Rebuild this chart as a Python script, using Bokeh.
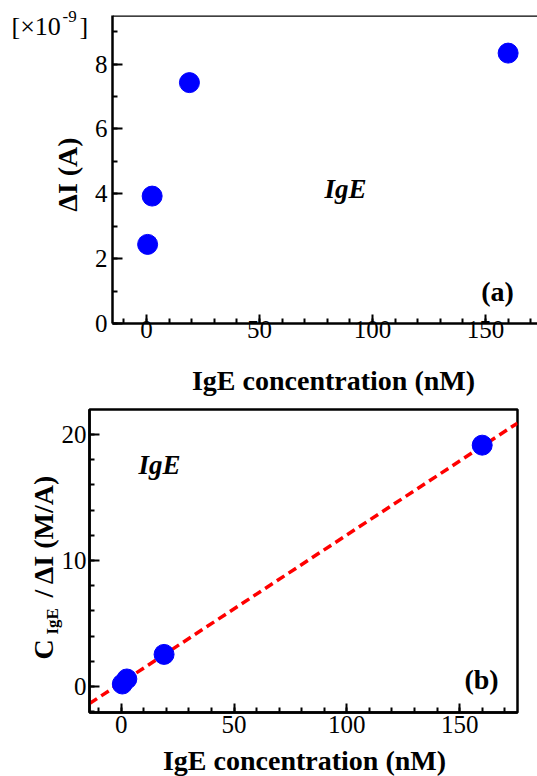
import math
from bokeh.plotting import figure
from bokeh.models import Label, Span, SingleIntervalTicker, ColumnDataSource, Range1d
from bokeh.embed import file_html
from bokeh.resources import INLINE

# ---- data ----
conc_nM = [0.5, 2.5, 19, 160]            # IgE concentration (nM)
delta_I = [2.44, 3.93, 7.43, 8.34]       # Delta I (x1e-9 A)
ratio = [0.2, 0.6, 2.55, 19.15]          # C_IgE / Delta I (M/A)
fit_x = [-14.05, 175.65]                 # linear fit end points
fit_y = [-1.35, 20.9]
x_title = "IgE concentration (nM)"
ya_title = "\u0394I (A)"

FONT = "Liberation Serif"
W, H = 537, 776

# ---------------- panel (a) ----------------
A_L, A_T, A_FW, A_FH, A_H = 112, 15, 425, 308, 408
A_X = (-15.04, 173.0)
A_Y = (0, 9.5)

pa = figure(width=W, height=A_H, x_range=A_X, y_range=A_Y,
            min_border_left=A_L, min_border_right=W - A_L - A_FW,
            min_border_top=A_T, min_border_bottom=A_H - A_T - A_FH,
            output_backend="svg", toolbar_location=None)

src_a = ColumnDataSource(dict(x=conc_nM, y=delta_I))
pa.scatter("x", "y", source=src_a, size=20, color="#0000ff", marker="circle")

# ---------------- panel (b) ----------------
B_L, B_T, B_FW, B_FH, B_H = 89, 1, 428, 303, 368
B_X = (-14.05, 175.65)
B_Y = (-2.06, 21.98)

pb = figure(width=W, height=B_H, x_range=B_X, y_range=B_Y,
            min_border_left=B_L, min_border_right=W - B_L - B_FW,
            min_border_top=B_T, min_border_bottom=B_H - B_T - B_FH,
            output_backend="svg", toolbar_location=None)

src_fit = ColumnDataSource(dict(x=fit_x, y=fit_y))
pb.line("x", "y", source=src_fit, line_color="#ff0000", line_width=3.5, line_dash="9 5")
src_b = ColumnDataSource(dict(x=conc_nM, y=ratio))
pb.scatter("x", "y", source=src_b, size=20, color="#0000ff", marker="circle")

# ---------------- common styling ----------------
for p in (pa, pb):
    p.grid.visible = False
    p.background_fill_color = "white"
    p.border_fill_color = "white"
    for axis in (p.xaxis[0], p.yaxis[0]):
        axis.axis_line_width = 2.5
        axis.axis_line_color = "black"
        axis.major_tick_line_width = 2
        axis.minor_tick_line_width = 2
        axis.major_tick_line_color = "black"
        axis.minor_tick_line_color = "black"
        axis.major_tick_out = 0
        axis.minor_tick_out = 0
        axis.major_tick_in = 10
        axis.minor_tick_in = 5
        axis.major_label_text_font = FONT
        axis.major_label_text_font_size = "25px"
        axis.major_label_text_color = "black"
    p.xaxis[0].ticker = SingleIntervalTicker(interval=50, num_minor_ticks=5)
    p.xaxis[0].major_tick_in = 9

pa.yaxis[0].ticker = SingleIntervalTicker(interval=2, num_minor_ticks=2)
pb.yaxis[0].ticker = SingleIntervalTicker(interval=10, num_minor_ticks=5)
pa.xaxis[0].major_label_standoff = -3
pb.xaxis[0].major_label_standoff = 3
pa.yaxis[0].major_label_standoff = 5
pb.yaxis[0].major_label_standoff = 3

pa.outline_line_color = None
pa.add_layout(Span(location=A_Y[1], dimension="width", line_color="black", line_width=2.5))
pb.outline_line_color = "black"
pb.outline_line_width = 2.5

# ---------------- transparent text layer over the whole page ----------------
ov = figure(width=W, height=H, x_range=Range1d(0, W), y_range=Range1d(H, 0),
            min_border=0, x_axis_type=None, y_axis_type=None,
            output_backend="svg", toolbar_location=None)
ov.grid.visible = False
ov.outline_line_color = None
ov.background_fill_alpha = 0
ov.border_fill_alpha = 0
ov.styles = {"position": "absolute", "top": "0px", "left": "0px",
             "pointer-events": "none"}


def lab(x, y, text, size, style="normal", align="center",
        baseline="middle", angle=0.0):
    ov.add_layout(Label(x=x, y=y, text=text, text_font=FONT,
                        text_font_size=f"{size}px", text_font_style=style,
                        text_align=align, text_baseline=baseline, angle=angle,
                        text_color="black"))

# panel (a)
lab(11, 26, "[\u00d710", 26, align="left")
lab(62, 16, "-9", 17, align="left")
lab(79, 26, "]", 26, align="left")
lab(67, 174, ya_title, 28, style="bold", angle=math.pi / 2)
lab(345, 188, "IgE", 27, style="bold italic")
lab(497, 291, "(a)", 28, style="bold")
lab(333, 380, x_title, 28, style="bold")

# panel (b)
lab(43, 659, "C", 28, style="bold", align="left", angle=math.pi / 2)
lab(52, 634, "IgE", 17, style="bold", align="left", angle=math.pi / 2)
lab(43, 597, "/ \u0394I (M/A)", 28, style="bold", align="left", angle=math.pi / 2)
lab(159, 464, "IgE", 27, style="bold italic")
lab(481, 679, "(b)", 28, style="bold")
lab(304, 760, x_title, 28, style="bold")

open("out.html", "w").write(file_html([pa, pb, ov], INLINE))
